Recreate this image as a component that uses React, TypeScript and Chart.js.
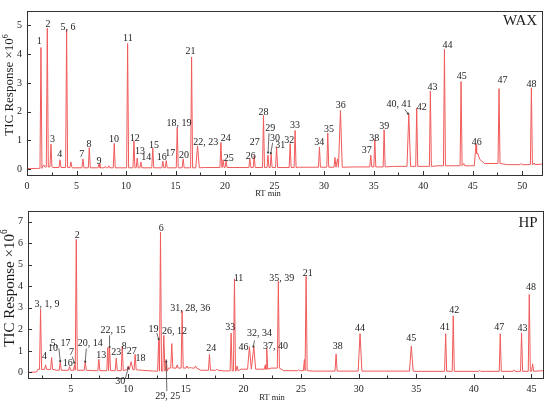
import React, { useEffect, useRef } from 'react';
import { Chart, registerables } from 'chart.js';

Chart.register(...registerables);

const SERIF = '"Liberation Serif", "Times New Roman", serif';
const LINE = '#f05a5a';
const INK = '#1d1d1d';

// ---- WAX column ----
const waxPeakRT = [
  1.41, 1.7, 2.05, 2.42, 3.33, 4.0, 4.44, 5.65, 6.29, 7.27, 7.9, 8.25, 8.81, 10.16, 10.8, 11.13, 11.5,
  12.7, 13.72, 14.06, 15.17, 15.77, 16.62, 17.22, 19.58, 19.8, 20.1, 22.5, 22.94, 23.88, 24.33, 24.65,
  25.2, 26.57, 27.07, 29.53, 30.37, 31.1, 31.35, 31.65, 34.71, 35.12, 36.06, 38.55, 39.35, 40.73,
  42.15, 43.83, 44.1, 45.34, 47.66, 49.9, 50.93, 51.2,
];
const waxPeakHeight = [
  4.23, 0.15, 4.9, 0.87, 0.33, 4.85, 0.25, 0.36, 0.75, 0.19, 0.1, 0.12, 0.9, 4.37, 0.98, 0.39, 0.25,
  0.73, 0.28, 0.3, 1.45, 0.36, 3.9, 0.81, 0.93, 0.33, 0.3, 0.36, 0.47, 1.87, 0.49, 0.53,
  0.78, 0.89, 1.35, 0.77, 1.26, 0.41, 0.36, 2.04, 0.49, 1.03, 1.37, 1.93, 2.13, 2.72,
  4.17, 3.05, 0.2, 0.86, 2.8, 0.2, 2.83, 0.22,
];
const waxWideRT = [17.22, 31.65, 38.55, 45.34];
const waxBaseRT = [0, 1.15, 1.55, 2.6, 4.6, 9.5, 18, 27.5, 33, 37, 41.5, 45.4, 45.7, 46.2, 48.5, 52];
const waxBaseLevel = [0.02, 0.03, 0.08, 0.06, 0.05, 0.05, 0.06, 0.07, 0.08, 0.1, 0.12, 0.55, 0.35, 0.2, 0.16, 0.18];

const waxLabelText = [
  '1', '2', '5, 6', '3', '4', '7', '8', '9', '10', '11', '12', '13', '14', '15', '16', '17', '18, 19',
  '20', '21', '22, 23', '24', '25', '26', '27', '28', '29', '30', '31', '32', '33', '34', '35', '36',
  '37', '38', '39', '40, 41', '42', '43', '44', '45', '46', '47', '48',
];
const waxLabelRT = [
  1.24, 2.12, 4.14, 2.57, 3.3, 5.52, 6.26, 7.27, 8.78, 10.19, 10.87, 11.4, 12.04, 12.82, 13.6, 14.46, 15.34,
  15.84, 16.52, 18.06, 20.08, 20.38, 22.6, 23.0, 23.88, 24.55, 25.03, 25.56, 26.47, 27.07, 29.5, 30.5, 31.69,
  34.31, 35.05, 36.06, 37.57, 39.86, 40.94, 42.45, 43.9, 45.41, 48.0, 50.93,
];
const waxLabelLevel = [
  4.45, 5.05, 4.92, 1.03, 0.52, 0.52, 0.87, 0.28, 1.03, 4.55, 1.07, 0.63, 0.4, 0.84, 0.4, 0.54, 1.58,
  0.47, 4.11, 0.95, 1.08, 0.39, 0.44, 0.92, 1.96, 1.43, 1.09, 0.84, 1.01, 1.52, 0.94, 1.39, 2.23,
  0.64, 1.09, 1.48, 2.27, 2.15, 2.85, 4.29, 3.24, 0.95, 3.09, 2.94,
];
const waxLeaders = [
  [24.44, 1.25, 24.34, 0.58],
  [24.8, 0.92, 24.62, 0.56],
  [38.14, 2.08, 38.47, 1.93],
];

// ---- HP column ----
const hpPeakRT = [
  2.39, 2.83, 3.35, 4.1, 4.91, 5.34, 5.49, 6.27, 7.45, 8.23, 8.38, 8.96, 9.48, 10.0, 10.25, 10.6,
  12.64, 12.8, 13.09, 13.3, 13.78, 14.25, 14.68, 15.1, 15.4, 15.84, 17.05, 17.7, 18.93, 19.22, 19.45,
  20.52, 20.9, 21.9, 22.02, 23.03, 24.8, 25.29, 25.44, 28.04, 30.12, 34.57, 37.55, 38.21, 40.5,
  42.29, 43.5, 44.14, 44.81, 45.1,
];
const hpPeakHeight = [
  2.94, 0.35, 0.69, 0.5, 0.27, 0.35, 6.18, 0.5, 0.61, 1.16, 1.16, 0.66, 1.22, 0.3, 0.5, 0.84,
  1.5, 6.52, 1.72, 0.6, 1.34, 0.35, 2.86, 0.3, 0.25, 0.3, 0.84, 0.15, 1.83, 4.35, 0.3,
  1.19, 1.19, 0.35, 1.11, 4.23, 0.12, 0.6, 4.46, 0.86, 1.8, 1.22, 1.8, 2.63, 0.1,
  1.8, 0.12, 1.84, 3.62, 0.4,
];
const hpWideRT = [10.25, 20.52, 20.9, 30.12, 34.57];
const hpBaseRT = [1.3, 2.05, 2.15, 3.8, 7.0, 9.8, 11.2, 12.3, 13.5, 16.3, 18.3, 19.8, 21.5, 22.4, 23.5, 26, 35, 46];
const hpBaseLevel = [0.0, 0.02, 0.14, 0.1, 0.08, 0.12, 0.1, 0.06, 0.2, 0.1, 0.07, 0.15, 0.15, 0.2, 0.08, 0.06, 0.05, 0.08];

const hpLabelText = [
  '3, 1, 9', '2', '4', '10', '5, 17', '16', '7', '20, 14', '13', '22, 15', '23', '8', '27', '18', '30',
  '19', '6', '26, 12', '29, 25', '31, 28, 36', '24', '33', '11', '46', '32, 34', '37, 40', '35, 39', '21',
  '38', '44', '45', '41', '42', '47', '43', '48',
];
const hpLabelRT = [
  2.95, 5.58, 2.74, 3.46, 4.13, 4.76, 5.08, 6.7, 7.66, 8.67, 8.96, 9.65, 10.31, 11.07, 9.3,
  12.19, 12.86, 14.02, 13.43, 15.38, 17.2, 18.85, 19.57, 20.0, 21.39, 22.78, 23.32, 25.58,
  28.18, 30.12, 34.57, 37.49, 38.3, 42.2, 44.22, 44.95,
];
const hpLabelLevel = [
  3.17, 6.37, 0.76, 1.12, 1.37, 0.43, 0.91, 1.34, 0.81, 1.95, 0.91, 1.23, 1.0, 0.66, -0.41,
  2.0, 6.67, 1.9, -1.1, 2.98, 1.11, 2.07, 4.35, 1.14, 1.8, 1.23, 4.38, 4.61,
  1.22, 2.06, 1.6, 2.1, 2.86, 2.1, 2.06, 3.93,
];
const hpLeaders = [
  [3.98, 1.11, 4.1, 0.52],
  [5.14, 0.73, 5.32, 0.45],
  [6.36, 1.11, 6.27, 0.5],
  [8.38, 1.72, 8.38, 1.18],
  [9.74, -0.3, 10.0, 0.2],
  [12.48, 1.83, 12.64, 1.55],
  [13.35, -0.87, 13.3, 0.5],
  [20.96, 1.49, 20.86, 1.2],
];

type Pt = { x: number; y: number };

const baseAt = (rt: number, baseRT: number[], baseLevel: number[]) => {
  let level = baseLevel[0];
  baseRT.forEach((r, i) => {
    if (r <= rt) level = baseLevel[i];
  });
  return level;
};

function buildTrace(
  peakRT: number[],
  peakHeight: number[],
  baseRT: number[],
  baseLevel: number[],
  halfWidth: number,
  wideRT: number[],
): Pt[] {
  const pts: Pt[] = baseRT.map((r, i) => ({ x: r, y: baseLevel[i] }));
  peakRT.forEach((r, i) => {
    const w = wideRT.includes(r) ? halfWidth * 1.8 : halfWidth;
    pts.push({ x: r - w, y: baseAt(r - w, baseRT, baseLevel) });
    pts.push({ x: r, y: peakHeight[i] });
    pts.push({ x: r + w, y: baseAt(r + w, baseRT, baseLevel) });
  });
  return pts.sort((a, b) => a.x - b.x);
}

type PanelProps = {
  name: string;
  height: number;
  trace: Pt[];
  labelText: string[];
  labelRT: number[];
  labelLevel: number[];
  leaders: number[][];
  xMin: number;
  xMax: number;
  yMin: number;
  yMax: number;
  padTop: number;
  padRight: number;
  yWidth: number;
  xHeight: number;
  xTitleX: number;
  yTitleY: number;
  yTitleSize: number;
  nameX: number;
  nameY: number;
};

const Panel = (p: PanelProps) => {
  const canvasRef = useRef<HTMLCanvasElement | null>(null);

  useEffect(() => {
    if (!canvasRef.current) return;

    const decorations = {
      id: 'decorations',
      afterDraw(chart: Chart) {
        const { ctx, chartArea: a } = chart;
        const xs = chart.scales.x;
        const ys = chart.scales.y;
        ctx.save();

        ctx.strokeStyle = '#333';
        ctx.lineWidth = 1;
        ctx.strokeRect(Math.round(a.left) + 0.5, Math.round(a.top) + 0.5, Math.round(a.right - a.left), Math.round(a.bottom - a.top));

        ctx.beginPath();
        xs.ticks.forEach((t) => {
          const px = Math.round(xs.getPixelForValue(t.value)) + 0.5;
          const len = Math.abs(t.value % 5) < 1e-6 ? 4 : 2.5;
          ctx.moveTo(px, a.bottom);
          ctx.lineTo(px, a.bottom - len);
        });
        ys.ticks.forEach((t) => {
          const py = Math.round(ys.getPixelForValue(t.value)) + 0.5;
          ctx.moveTo(a.left, py);
          ctx.lineTo(a.left + 4, py);
        });
        ctx.stroke();

        // leader lines
        ctx.strokeStyle = '#444';
        ctx.fillStyle = '#444';
        ctx.lineWidth = 0.8;
        p.leaders.forEach(([x1, y1, x2, y2]) => {
          const ax = xs.getPixelForValue(x1);
          const ay = ys.getPixelForValue(y1);
          const bx = xs.getPixelForValue(x2);
          const by = ys.getPixelForValue(y2);
          ctx.beginPath();
          ctx.moveTo(ax, ay);
          ctx.lineTo(bx, by);
          ctx.stroke();
          ctx.beginPath();
          ctx.arc(bx, by, 1.1, 0, Math.PI * 2);
          ctx.fill();
        });

        // peak labels
        ctx.fillStyle = INK;
        ctx.font = `10px ${SERIF}`;
        ctx.textAlign = 'center';
        ctx.textBaseline = 'middle';
        p.labelText.forEach((txt, i) => {
          ctx.fillText(txt, xs.getPixelForValue(p.labelRT[i]), ys.getPixelForValue(p.labelLevel[i]));
        });

        // axis titles
        ctx.font = `8.5px ${SERIF}`;
        ctx.fillText('RT min', p.xTitleX, chart.height - 6);

        ctx.translate(10, p.yTitleY);
        ctx.rotate(-Math.PI / 2);
        const s = p.yTitleSize;
        const main = 'TIC Response \u00d710';
        ctx.font = `${s}px ${SERIF}`;
        const w1 = ctx.measureText(main).width;
        ctx.font = `${s * 0.62}px ${SERIF}`;
        const w2 = ctx.measureText('6').width;
        const start = -(w1 + w2) / 2;
        ctx.textAlign = 'left';
        ctx.font = `${s}px ${SERIF}`;
        ctx.fillText(main, start, 0);
        ctx.font = `${s * 0.62}px ${SERIF}`;
        ctx.fillText('6', start + w1, -s * 0.35);
        ctx.setTransform(1, 0, 0, 1, 0, 0);
        ctx.restore();

        ctx.save();
        ctx.fillStyle = INK;
        ctx.font = `15px ${SERIF}`;
        ctx.textAlign = 'center';
        ctx.textBaseline = 'middle';
        ctx.fillText(p.name, p.nameX, p.nameY);
        ctx.restore();
      },
    };

    const chart = new Chart(canvasRef.current, {
      type: 'scatter',
      data: {
        datasets: [
          {
            data: p.trace,
            showLine: true,
            borderColor: LINE,
            borderWidth: 1,
            pointRadius: 0,
            tension: 0,
          },
        ],
      },
      options: {
        animation: false,
        responsive: true,
        maintainAspectRatio: false,
        layout: { padding: { top: p.padTop, right: p.padRight, left: 0, bottom: 0 } },
        plugins: { legend: { display: false }, tooltip: { enabled: false } },
        scales: {
          x: {
            type: 'linear',
            min: p.xMin,
            max: p.xMax,
            afterFit: (scale) => {
              scale.height = p.xHeight;
            },
            grid: { display: false, drawTicks: false },
            border: { display: false },
            ticks: {
              stepSize: 2.5,
              includeBounds: false,
              autoSkip: false,
              maxRotation: 0,
              padding: 5,
              color: INK,
              font: { family: SERIF, size: 10 },
              callback: (v) => (Math.abs(Number(v) % 5) < 1e-6 ? String(v) : ''),
            },
          },
          y: {
            min: p.yMin,
            max: p.yMax,
            afterFit: (scale) => {
              scale.width = p.yWidth;
            },
            grid: { display: false, drawTicks: false },
            border: { display: false },
            ticks: {
              stepSize: 1,
              includeBounds: false,
              padding: 5,
              color: INK,
              font: { family: SERIF, size: 10 },
              callback: (v) => (Number.isInteger(Number(v)) ? String(v) : ''),
            },
          },
        },
      },
      plugins: [decorations],
    });

    return () => {
      chart.destroy();
    };
  }, [p]);

  return (
    <div style={{ position: 'relative', width: '550px', height: `${p.height}px` }}>
      <canvas ref={canvasRef} />
    </div>
  );
};

const waxTrace = buildTrace(waxPeakRT, waxPeakHeight, waxBaseRT, waxBaseLevel, 0.1, waxWideRT);
const hpTrace = buildTrace(hpPeakRT, hpPeakHeight, hpBaseRT, hpBaseLevel, 0.09, hpWideRT);

const waxPanel: PanelProps = {
  name: 'WAX',
  height: 200,
  trace: waxTrace,
  labelText: waxLabelText,
  labelRT: waxLabelRT,
  labelLevel: waxLabelLevel,
  leaders: waxLeaders,
  xMin: 0,
  xMax: 52,
  yMin: -0.2,
  yMax: 5.5,
  padTop: 6,
  padRight: 8,
  yWidth: 27,
  xHeight: 25,
  xTitleX: 268,
  yTitleY: 85,
  yTitleSize: 13,
  nameX: 520,
  nameY: 21,
};

const hpPanel: PanelProps = {
  name: 'HP',
  height: 204,
  trace: hpTrace,
  labelText: hpLabelText,
  labelRT: hpLabelRT,
  labelLevel: hpLabelLevel,
  leaders: hpLeaders,
  xMin: 1.3,
  xMax: 46,
  yMin: -0.26,
  yMax: 7.5,
  padTop: 8,
  padRight: 7,
  yWidth: 28,
  xHeight: 26,
  xTitleX: 272,
  yTitleY: 88,
  yTitleSize: 15,
  nameX: 528,
  nameY: 23,
};

const App = () => {
  useEffect(() => {
    document.body.style.margin = '0';
  }, []);

  return (
    <div style={{ width: '550px', height: '404px', background: '#fff' }}>
      <Panel {...waxPanel} />
      <Panel {...hpPanel} />
    </div>
  );
};

export default App;
